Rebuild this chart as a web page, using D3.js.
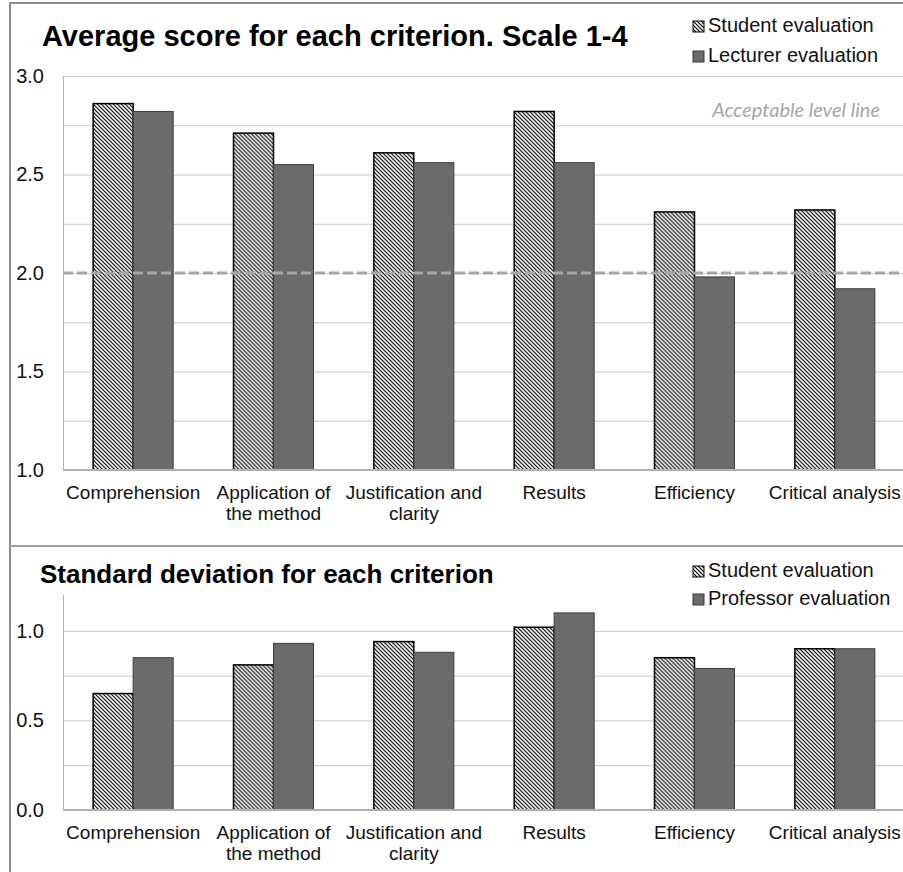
<!DOCTYPE html>
<html>
<head>
<meta charset="utf-8">
<script src="https://cdn.jsdelivr.net/npm/d3@7"></script>
<style>
  body { margin: 0; background: #fff; }
  svg { display: block; font-family: "Liberation Sans", Arial, sans-serif; }
</style>
</head>
<body>
<div id="chart"></div>
<script>
// categories (label lines as shown under the axis)
var criteria = ['Comprehension', 'Application of the method', 'Justification and clarity', 'Results', 'Efficiency', 'Critical analysis'];
var criteriaLines = [['Comprehension'], ['Application of', 'the method'], ['Justification and', 'clarity'], ['Results'], ['Efficiency'], ['Critical analysis']];

// average score, scale 1-4
var avgStudent  = [2.86, 2.71, 2.61, 2.82, 2.31, 2.32];
var avgLecturer = [2.82, 2.55, 2.56, 2.56, 1.98, 1.92];
var acceptableLevel = 2.0;
var avgTicks = [1.0, 1.5, 2.0, 2.5, 3.0];
var avgGrid  = [1.25, 1.5, 1.75, 2.0, 2.25, 2.5, 2.75, 3.0];

// standard deviation
var sdStudent   = [0.65, 0.81, 0.94, 1.02, 0.85, 0.90];
var sdProfessor = [0.85, 0.93, 0.88, 1.10, 0.79, 0.90];
var sdTicks = [0.0, 0.5, 1.0];
var sdGrid  = [0.25, 0.5, 0.75, 1.0];

var W = 903, H = 872;
var svg = d3.select('#chart').append('svg')
    .attr('width', W)
    .attr('height', H);

var defs = svg.append('defs');
var pat = defs.append('pattern')
    .attr('id', 'hatch')
    .attr('patternUnits', 'userSpaceOnUse')
    .attr('width', 4)
    .attr('height', 4);
pat.append('rect').attr('width', 4).attr('height', 4).attr('fill', '#fff');
pat.append('path')
    .attr('d', 'M-1,-1 L5,5 M-1,3 L1,5 M3,-1 L5,1')
    .attr('stroke', '#000')
    .attr('stroke-width', 1.2);

// frame
svg.append('rect')
    .attr('x', 10).attr('y', 3)
    .attr('width', 900).attr('height', 880)
    .attr('fill', 'none')
    .attr('stroke', '#8c8c8c')
    .attr('stroke-width', 2);
svg.append('line')
    .attr('x1', 10).attr('x2', W)
    .attr('y1', 546).attr('y2', 546)
    .attr('stroke', '#a0a0a0')
    .attr('stroke-width', 2);

function drawPanel(opt) {
    var g = svg.append('g');

    var x0 = d3.scaleBand()
        .domain(criteria)
        .range([63, 905])
        .paddingInner(0.43)
        .paddingOuter(0.215);
    var x1 = d3.scaleBand()
        .domain(['a', 'b'])
        .range([0, x0.bandwidth()]);
    var y = d3.scaleLinear()
        .domain(opt.domain)
        .range(opt.range);

    // gridlines
    g.append('g')
        .attr('transform', 'translate(63,0)')
        .call(d3.axisLeft(y).tickValues(opt.grid).tickSize(-(905 - 63)).tickFormat(''))
        .call(s => s.select('.domain').remove())
        .selectAll('line')
        .attr('stroke', '#c8c8c8')
        .attr('stroke-width', 1);

    // y labels
    g.append('g')
        .attr('transform', 'translate(44,0)')
        .call(d3.axisLeft(y).tickValues(opt.ticks).tickSize(0).tickPadding(0).tickFormat(d3.format('.1f')))
        .call(s => s.select('.domain').remove())
        .selectAll('text')
        .attr('font-size', '20px')
        .attr('font-family', '"Liberation Sans", Arial, sans-serif')
        .attr('fill', '#111')
        .attr('text-anchor', 'end');

    // vertical axis line
    g.append('line')
        .attr('x1', 63.5).attr('x2', 63.5)
        .attr('y1', opt.range[1]).attr('y2', opt.range[0])
        .attr('stroke', '#b0b0b0');

    var groups = g.selectAll('.grp')
        .data(criteria)
        .enter()
        .append('g')
        .attr('transform', d => 'translate(' + x0(d) + ',0)');

    groups.append('rect')
        .attr('x', x1('a'))
        .attr('y', (d, i) => y(opt.s1[i]))
        .attr('width', x1.bandwidth())
        .attr('height', (d, i) => y(opt.domain[0]) - y(opt.s1[i]))
        .attr('fill', 'url(#hatch)')
        .attr('stroke', '#000')
        .attr('stroke-width', 1.5);

    groups.append('rect')
        .attr('x', x1('b'))
        .attr('y', (d, i) => y(opt.s2[i]))
        .attr('width', x1.bandwidth())
        .attr('height', (d, i) => y(opt.domain[0]) - y(opt.s2[i]))
        .attr('fill', '#6b6b6b')
        .attr('stroke', '#3a3a3a')
        .attr('stroke-width', 1);

    // x axis
    var xa = g.append('g')
        .attr('transform', 'translate(0,' + opt.range[0] + ')')
        .call(d3.axisBottom(x0).tickSize(0).tickPadding(0));
    xa.select('.domain')
        .attr('stroke', '#b0b0b0')
        .attr('stroke-width', 2)
        .attr('d', 'M63,0H905');
    xa.selectAll('text')
        .attr('font-size', '19px')
        .attr('font-family', '"Liberation Sans", Arial, sans-serif')
        .attr('fill', '#111')
        .attr('dy', null)
        .attr('y', 0)
        .each(function(d, i) {
            var t = d3.select(this).text(null);
            criteriaLines[i].forEach(function(line, k) {
                t.append('tspan')
                    .attr('x', 0)
                    .attr('y', 29 + k * 21)
                    .text(line);
            });
        });

    if (opt.level !== undefined) {
        g.append('line')
            .attr('x1', 63).attr('x2', 903)
            .attr('y1', y(opt.level)).attr('y2', y(opt.level))
            .attr('stroke', '#a6a6a6')
            .attr('stroke-width', 3)
            .attr('stroke-dasharray', '10,4');
        g.append('text')
            .attr('x', 880)
            .attr('y', 117)
            .attr('text-anchor', 'end')
            .attr('font-family', 'Lato, "Open Sans", sans-serif')
            .attr('font-style', 'italic')
            .attr('font-size', '20px')
            .attr('fill', '#a6a6a6')
            .text('Acceptable level line');
    }

    // title
    g.append('text')
        .attr('x', opt.titleX)
        .attr('y', opt.titleY)
        .attr('font-size', opt.titleSize)
        .attr('font-weight', 'bold')
        .attr('fill', '#000')
        .text(opt.title);

    // legend
    var leg = g.append('g');
    opt.legend.forEach(function(name, k) {
        var ly = opt.legendY[k];
        leg.append('rect')
            .attr('x', 693).attr('y', ly - 11)
            .attr('width', 11).attr('height', 11)
            .attr('fill', k == 0 ? 'url(#hatch)' : '#6b6b6b')
            .attr('stroke', k == 0 ? '#000' : '#3a3a3a')
            .attr('stroke-width', 1);
        leg.append('text')
            .attr('x', 708)
            .attr('y', ly)
            .attr('font-size', '20px')
            .attr('fill', '#111')
            .text(name);
    });
}

drawPanel({
    domain: [1, 3],
    range: [470, 76],
    ticks: avgTicks,
    grid: avgGrid,
    s1: avgStudent,
    s2: avgLecturer,
    level: acceptableLevel,
    title: 'Average score for each criterion. Scale 1-4',
    titleX: 42, titleY: 46, titleSize: '29px',
    legend: ['Student evaluation', 'Lecturer evaluation'],
    legendY: [32, 62]
});

drawPanel({
    domain: [0, 1.2],
    range: [810, 595],
    ticks: sdTicks,
    grid: sdGrid,
    s1: sdStudent,
    s2: sdProfessor,
    title: 'Standard deviation for each criterion',
    titleX: 40, titleY: 583, titleSize: '26px',
    legend: ['Student evaluation', 'Professor evaluation'],
    legendY: [577, 605]
});
</script>
</body>
</html>
